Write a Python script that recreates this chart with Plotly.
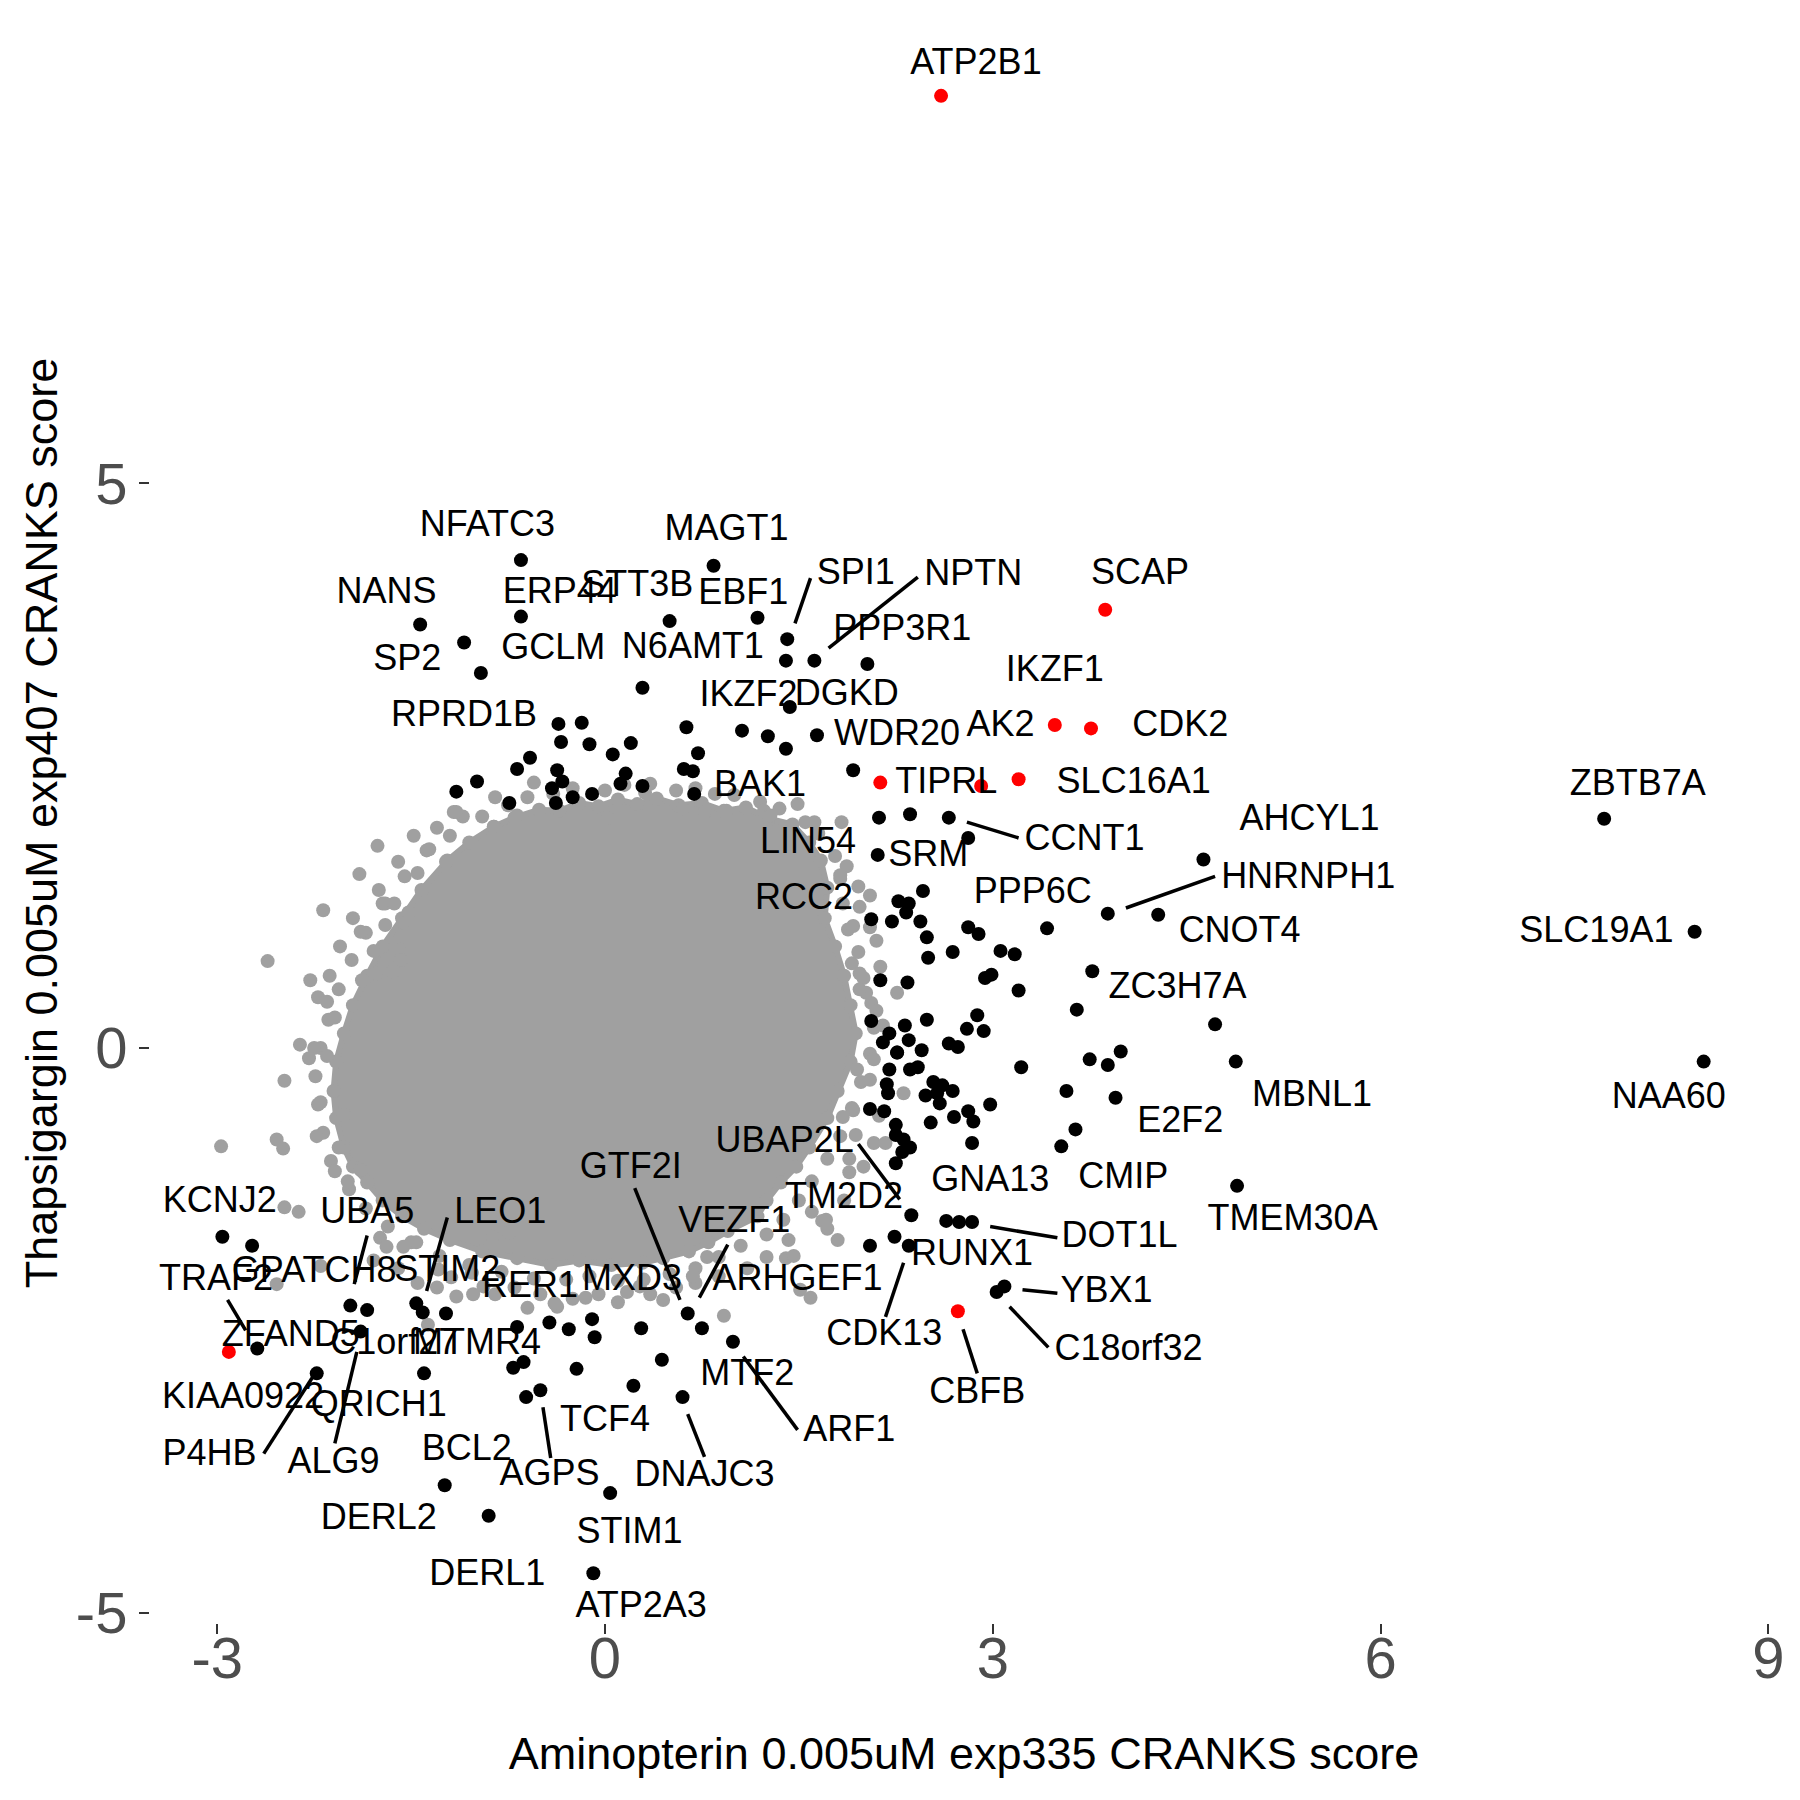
import plotly.graph_objects as go

# ---------------- data ----------------
# dense core of the background (non-hit) genes: outer edge of the cloud
core_x = [-0.86,-0.70,-0.51,-0.35,-0.20,-0.05,0.10,0.25,0.40,0.57,0.75,0.92,1.09,1.27,1.45,
          1.58,1.67,1.72,1.70,1.78,1.85,1.90,1.94,1.90,1.80,1.72,1.58,1.48,1.36,1.25,1.18,
          0.95,0.80,0.65,0.45,0.29,0.05,-0.20,-0.42,-0.68,-0.95,-1.20,-1.40,-1.57,-1.72,-1.84,
          -1.95,-2.02,-2.08,-2.10,-2.08,-2.02,-1.95,-1.84,-1.72,-1.57,-1.42,-1.22,-1.05]
core_y = [1.96,2.04,2.11,2.10,2.17,2.14,2.20,2.16,2.21,2.15,2.17,2.10,2.13,2.03,1.98,
          1.82,1.66,1.42,1.15,0.90,0.64,0.38,0.13,-0.12,-0.38,-0.62,-0.88,-1.05,-1.19,-1.35,-1.49,
          -1.62,-1.72,-1.80,-1.86,-1.90,-1.92,-1.88,-1.92,-1.86,-1.80,-1.70,-1.60,-1.49,-1.35,-1.19,
          -1.05,-0.88,-0.62,-0.38,-0.12,0.13,0.38,0.64,0.90,1.15,1.40,1.66,1.82]

# background genes in the fringe just outside the core
fringe_x = [-0.95,-0.75,-0.60,-0.40,-0.25,0.00,0.15,0.35,0.55,0.70,0.85,1.00,1.20,1.35,1.55,1.65,
            1.78,1.82,1.84,1.88,1.96,2.00,2.06,2.08,2.05,1.98,1.92,1.82,1.72,1.60,1.50,1.38,1.25,
            1.05,0.88,0.70,0.50,0.30,0.10,-0.12,-0.30,-0.55,-0.80,-1.05,-1.28,-1.50,-1.68,-1.85,-1.98,
            -2.12,-2.18,-2.22,-2.24,-2.20,-2.14,-2.06,-1.96,-1.85,-1.72,-1.55,-1.38,-1.20,
            -1.60,-1.45,-1.30,-1.15,-0.85,-0.70,-0.50,-0.25,-0.05,0.10,0.35,0.55,0.70,0.88,1.10,1.25,1.42,1.60,
            -1.60,-1.48,-1.30,-1.10,-0.85,-0.55,-1.75,-1.95,-2.05,-2.28,
            2.10,2.15,2.12,2.00,1.85]
fringe_y = [2.05,2.15,2.22,2.25,2.30,2.28,2.33,2.34,2.28,2.30,2.25,2.24,2.18,2.12,2.00,1.90,
            1.70,1.50,1.28,1.05,0.85,0.62,0.40,0.18,-0.05,-0.30,-0.55,-0.78,-0.98,-1.18,-1.35,-1.52,-1.65,
            -1.75,-1.85,-1.95,-2.00,-2.05,-2.06,-2.02,-2.05,-2.04,-1.98,-1.92,-1.84,-1.72,-1.58,-1.42,-1.25,
            -1.00,-0.75,-0.50,-0.25,0.00,0.25,0.52,0.78,1.02,1.28,1.52,1.75,1.88,
            -1.95,-2.08,-2.12,-2.20,-2.18,-2.12,-2.18,-2.22,-2.18,-2.25,-2.18,-2.12,-2.08,-2.02,-1.95,-1.85,-1.70,-1.45,
            1.65,1.88,1.95,2.05,2.22,2.35,1.40,1.15,0.90,0.60,
            0.95,0.20,-0.60,-1.05,-1.35]

# scattered background genes further out
bg_x = [-1.76,-1.36,-1.90,-1.45,-1.23,-1.17,-0.68,
        -2.18,-1.70,-1.63,-1.70,-1.89,-1.56,-1.52,
        -2.61,-1.79,-1.59,-1.58,-2.13,-1.64,-2.22,-2.15,-1.88,-1.77,-2.09,
        -2.36,-2.25,-2.29,-2.15,-2.48,-2.20,-2.02,
        -2.97,-2.54,-2.49,-2.23,-2.06,-2.09,-1.99,
        -2.48,-2.37,-1.74,-1.69,-1.89,-1.79,-1.56,-1.46,
        -2.20,-2.54,-1.37,-1.29,-1.19,-1.03,-1.02,-0.94,
        -0.87,-0.74,-0.60,-0.37,-0.39,-0.15,0.17,0.27,
        0.45,0.68,0.79,0.92,1.40,1.46,1.59,1.51,
        1.80,1.68,1.72,1.71,1.89,1.89,1.94,2.08,2.17,
        1.91,1.84,2.31,2.08,2.05,1.95,2.02,2.10,2.26,
        1.97,2.13,1.91,1.97,1.97,2.05,1.92,1.87,1.82,1.96,2.05,
        1.49,1.62,1.83,1.23,1.28,0.77,0.94,0.60,0.31,0.02,-1.15]
bg_y = [1.79,1.76,1.54,1.55,1.65,2.09,2.06,
        1.22,1.28,1.28,1.09,1.03,1.11,1.20,
        0.77,0.86,0.87,0.78,0.64,0.68,0.45,0.41,0.60,0.66,0.27,
        0.03,0.00,-0.09,-0.07,-0.29,-0.48,-0.59,
        -0.87,-0.81,-0.89,-0.78,-0.88,-1.09,-1.18,
        -1.41,-1.45,-1.68,-1.76,-1.08,-1.88,-1.76,-1.72,
        -1.93,-2.09,-2.45,-1.96,-2.03,-1.99,-2.18,-2.11,
        -1.67,-1.63,-2.30,-2.29,-2.26,-2.21,-2.16,-2.11,
        -2.23,-2.02,-1.85,-2.37,-1.86,-1.84,-2.21,-2.14,
        -1.70,-1.53,-1.60,-1.52,-1.10,-0.98,-0.77,-0.84,-0.84,
        -0.53,-0.61,-0.40,-0.10,-0.28,-0.19,0.49,0.33,0.49,
        0.52,0.72,0.75,0.66,1.25,1.07,1.08,1.61,1.53,1.43,1.35,
        2.16,2.00,2.00,2.10,2.06,2.09,2.10,2.12,2.26,2.04,2.09]

# hit genes (black)
hit_x = [-0.65,0.84,-1.43,-0.65,0.50,1.18,-1.09,-0.96,0.29,1.41,1.40,1.62,2.03,
         -0.36,-0.18,-0.34,-0.12,0.06,0.20,-0.58,-0.68,-0.99,-1.15,-0.74,-0.37,-0.33,-0.41,-0.38,-0.25,-0.10,0.16,0.12,0.29,
         0.63,0.72,0.61,0.68,0.69,1.06,1.26,1.43,1.40,1.64,1.92,
         2.12,2.36,2.66,2.81,2.11,4.63,7.73,8.43,4.72,4.88,8.50,
         2.46,2.27,2.35,2.33,2.06,2.22,2.44,2.49,2.50,2.13,2.34,2.81,2.89,2.69,3.06,3.17,2.94,2.99,3.20,3.42,3.89,4.28,3.77,3.65,
         2.49,2.32,2.88,2.80,2.93,2.66,2.73,2.45,2.35,2.20,2.15,2.26,2.20,2.42,2.36,3.22,3.75,3.89,3.99,
         2.18,2.19,2.54,2.61,2.69,2.48,2.57,2.59,2.98,2.81,2.85,2.70,2.52,2.05,2.16,3.57,3.95,2.84,3.53,3.64,
         2.25,2.25,2.31,2.36,2.30,2.25,4.89,2.37,2.64,2.74,2.84,2.05,2.24,2.35,3.03,3.09,2.06,2.26,
         -2.96,-2.73,-2.69,-2.23,-1.97,-1.84,-1.89,-1.46,-1.41,-1.23,-1.40,-0.68,-0.43,-0.28,-0.71,-0.63,-0.22,-0.61,-0.50,
         -1.24,-0.90,-0.10,-0.08,0.64,0.75,0.99,0.28,0.44,0.60,0.22,0.04,-0.09]
hit_y = [4.32,4.27,3.75,3.82,3.78,3.81,3.59,3.32,3.19,3.62,3.43,3.43,3.40,
         2.87,2.88,2.71,2.69,2.60,2.70,2.57,2.47,2.36,2.27,2.17,2.46,2.36,2.30,2.17,2.22,2.25,2.43,2.34,2.32,
         2.84,2.61,2.47,2.45,2.25,2.81,2.76,3.02,2.65,2.77,2.46,
         2.04,2.07,2.04,1.86,1.71,1.67,2.03,1.03,0.21,-0.12,-0.12,
         1.39,1.30,1.28,1.20,1.14,1.12,1.12,0.98,0.80,0.60,0.58,1.07,1.01,0.85,0.86,0.83,0.62,0.65,0.51,1.06,1.19,1.18,0.68,0.34,
         0.25,0.20,0.29,0.17,0.15,0.04,0.01,-0.02,0.07,0.13,0.05,-0.04,-0.19,-0.17,-0.19,-0.17,-0.10,-0.15,-0.03,
         -0.32,-0.40,-0.30,-0.33,-0.38,-0.42,-0.40,-0.49,-0.50,-0.56,-0.65,-0.61,-0.66,-0.54,-0.56,-0.38,-0.44,-0.84,-0.87,-0.72,
         -0.68,-0.77,-0.81,-0.88,-0.92,-1.02,-1.22,-1.48,-1.53,-1.54,-1.54,-1.75,-1.67,-1.75,-2.16,-2.11,0.24,-0.04,
         -1.67,-1.75,-2.66,-2.88,-2.28,-2.32,-2.51,-2.26,-2.34,-2.35,-2.88,-2.47,-2.43,-2.49,-2.83,-2.78,-2.84,-3.09,-3.03,
         -3.87,-4.14,-2.40,-2.56,-2.35,-2.48,-2.60,-2.48,-2.76,-3.09,-2.99,-3.94,-4.65]

# highlighted genes (red)
red_x = [2.60,3.87,3.48,3.76,2.13,2.91,3.20,2.73,-2.91]
red_y = [8.43,3.88,2.86,2.83,2.35,2.32,2.38,-2.33,-2.69]

# gene labels
label_text = ["ATP2B1","NFATC3","MAGT1","NANS","ERP44","STT3B","EBF1","SPI1","NPTN","SCAP",
              "PPP3R1","SP2","GCLM","N6AMT1","IKZF1","IKZF2","DGKD","RPRD1B","AK2","CDK2",
              "WDR20","TIPRL","SLC16A1","BAK1","ZBTB7A","AHCYL1","CCNT1","LIN54","SRM","HNRNPH1",
              "PPP6C","RCC2","CNOT4","SLC19A1","ZC3H7A","MBNL1","NAA60","E2F2","UBAP2L","GTF2I",
              "CMIP","GNA13","TM2D2","KCNJ2","UBA5","LEO1","TMEM30A","VEZF1","DOT1L","RUNX1",
              "GPATCH8","STIM2","TRAF2","MXD3","ARHGEF1","RER1","YBX1","CDK13","ZFAND5","C1orf27",
              "MTMR4","C18orf32","MTF2","CBFB","KIAA0922","QRICH1","TCF4","ARF1","BCL2","P4HB",
              "ALG9","AGPS","DNAJC3","DERL2","STIM1","DERL1","ATP2A3"]
label_x = [2.87,-0.91,0.94,-1.69,-0.35,0.25,1.07,1.94,2.85,4.14,
           2.30,-1.53,-0.40,0.68,3.48,1.11,1.87,-1.09,3.06,4.45,
           2.26,2.64,4.09,1.20,7.99,5.45,3.71,1.57,2.50,5.44,
           3.31,1.54,4.91,7.67,4.43,5.47,8.23,4.45,1.39,0.20,
           4.01,2.98,1.85,-2.98,-1.84,-0.81,5.32,1.00,3.98,2.84,
           -2.25,-1.22,-3.01,0.21,1.49,-0.58,3.88,2.16,-2.43,-1.63,
           -0.99,4.05,1.10,2.88,-2.80,-1.75,0.00,1.89,-1.07,-3.06,
           -2.10,-0.43,0.77,-1.75,0.19,-0.91,0.28]
label_y = [8.70,4.61,4.58,4.02,4.02,4.08,4.01,4.19,4.18,4.19,
           3.69,3.43,3.52,3.53,3.33,3.11,3.12,2.93,2.84,2.84,
           2.76,2.34,2.34,2.31,2.32,2.01,1.83,1.81,1.69,1.50,
           1.36,1.31,1.02,1.02,0.52,-0.43,-0.45,-0.66,-0.84,-1.07,
           -1.16,-1.19,-1.34,-1.37,-1.47,-1.47,-1.53,-1.55,-1.68,-1.84,
           -1.99,-1.98,-2.06,-2.06,-2.06,-2.12,-2.17,-2.55,-2.56,-2.63,
           -2.63,-2.68,-2.90,-3.06,-3.11,-3.18,-3.31,-3.40,-3.57,-3.61,
           -3.68,-3.79,-3.80,-4.18,-4.30,-4.67,-4.96]

# label leader segments (start -> end)
seg_x0 = [1.47,1.73,2.80,4.03,1.96,2.98,3.23,3.13,2.77,2.31,0.95,0.23,1.07,0.64,-0.48,-1.22,-1.84,-2.92,-2.64,-2.09]
seg_y0 = [3.76,3.54,2.00,1.24,-0.85,-1.58,-2.14,-2.29,-2.49,-1.90,-1.74,-1.24,-2.73,-3.24,-3.18,-1.50,-1.66,-2.23,-3.59,-3.50]
seg_x1 = [1.59,2.42,3.20,4.72,2.28,3.50,3.50,3.43,2.88,2.17,0.73,0.58,1.49,0.77,-0.42,-1.38,-1.94,-2.78,-2.26,-1.92]
seg_y1 = [4.16,4.17,1.86,1.52,-1.34,-1.68,-2.17,-2.65,-2.88,-2.38,-2.21,-2.23,-3.38,-3.62,-3.63,-2.15,-2.09,-2.50,-2.91,-2.69]

x_ticks = [-3, 0, 3, 6, 9]
y_ticks = [-5, 0, 5]

# ---------------- figure ----------------
GREY = "#A0A0A0"
FONT = "Liberation Sans, Arial, Helvetica, sans-serif"

fig = go.Figure()

fig.add_trace(go.Scatter(
    x=core_x + core_x[:1], y=core_y + core_y[:1], mode="markers+lines",
    fill="toself", fillcolor=GREY, line=dict(color=GREY, width=6),
    marker=dict(color=GREY, size=14), hoverinfo="skip", showlegend=False))

fig.add_trace(go.Scatter(
    x=fringe_x + bg_x, y=fringe_y + bg_y, mode="markers",
    marker=dict(color=GREY, size=14), hoverinfo="skip", showlegend=False))

seg_xs, seg_ys = [], []
for a, b, c, d in zip(seg_x0, seg_y0, seg_x1, seg_y1):
    seg_xs += [a, c, None]
    seg_ys += [b, d, None]
fig.add_trace(go.Scatter(x=seg_xs, y=seg_ys, mode="lines",
                         line=dict(color="black", width=3.5),
                         hoverinfo="skip", showlegend=False))

fig.add_trace(go.Scatter(
    x=hit_x, y=hit_y, mode="markers", marker=dict(color="black", size=14),
    showlegend=False))

fig.add_trace(go.Scatter(
    x=red_x, y=red_y, mode="markers", marker=dict(color="#FF0000", size=14),
    showlegend=False))

fig.add_trace(go.Scatter(
    x=label_x, y=label_y, mode="text", text=label_text,
    textposition="middle center",
    textfont=dict(family=FONT, size=36, color="black"),
    hoverinfo="skip", showlegend=False))

axis_common = dict(showgrid=False, zeroline=False, showline=False,
                   ticks="outside", ticklen=10, tickwidth=2, tickcolor="#333333",
                   tickfont=dict(family=FONT, size=58, color="#4D4D4D"))

fig.update_xaxes(range=[-3.52, 9.075], tickvals=x_ticks,
                 ticktext=[str(v) for v in x_ticks],
                 ticklabelstandoff=-26,
                 title=dict(text="Aminopterin 0.005uM exp335 CRANKS score",
                            font=dict(family=FONT, size=45, color="black"),
                            standoff=48),
                 **axis_common)
fig.update_yaxes(range=[-5.09, 9.075], tickvals=y_ticks,
                 ticktext=[str(v) for v in y_ticks],
                 title=dict(text="Thapsigargin 0.005uM exp407 CRANKS score",
                            font=dict(family=FONT, size=45, color="black"),
                            standoff=4),
                 **axis_common)

fig.update_layout(width=1800, height=1800,
                  margin=dict(l=150, r=22, t=23, b=177, autoexpand=False),
                  paper_bgcolor="white", plot_bgcolor="white",
                  font=dict(family=FONT))

fig.write_html("out.html", config={"displayModeBar": False},
               post_script="document.body.style.margin='0';document.body.style.overflow='hidden';")
